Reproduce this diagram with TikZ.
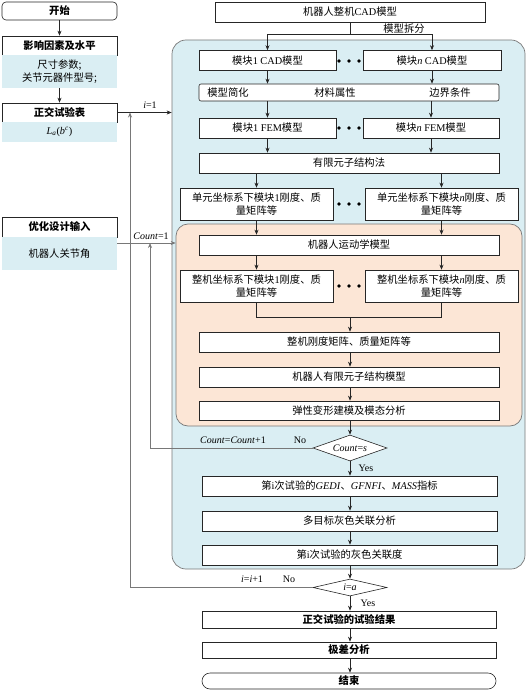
\documentclass[tikz,border=0pt]{standalone}
\usepackage{fontspec}
\setmainfont{Liberation Serif}
\newfontfamily\cjk{Noto Sans CJK SC}
\usetikzlibrary{arrows.meta,shapes.geometric}
\definecolor{bluefill}{RGB}{218,238,243}
\definecolor{orangefill}{RGB}{252,230,214}
\definecolor{linegray}{RGB}{120,120,120}
\newcommand\zhf{\cjk\fontsize{10.3}{13}\selectfont}
\newcommand\tmf{\rmfamily\fontsize{10}{12}\selectfont}
\newcommand\tn[1]{{\rmfamily #1}}
\begin{document}
\begin{tikzpicture}[x=1pt,y=-1pt,
  box/.style={draw=black!85, line width=0.6pt, fill=white, inner sep=1pt, align=center, font=\zhf},
  hbox/.style={box, font=\zhf\bfseries},
  bbox/.style={fill=bluefill, inner sep=1pt, align=center, font=\zhf},
  cont/.style={draw=linegray, line width=0.7pt, rounded corners=14pt, inner sep=0pt},
  arr/.style={-{Stealth[length=5pt,width=4pt]}, line width=0.6pt, draw=black!85},
  ln/.style={line width=0.6pt, draw=black!85},
  lp/.style={-{Stealth[length=5pt,width=4pt]}, line width=0.7pt, draw=linegray},
  lbl/.style={font=\tmf, inner sep=1pt},
  zlbl/.style={font=\zhf, inner sep=1pt},
  dotn/.style={circle, fill=black, inner sep=0pt, minimum size=3.6pt},
  dec/.style={diamond, draw=black!85, line width=0.6pt, fill=white, inner sep=0pt, font=\tmf}
]
\useasboundingbox (0,0) rectangle (529,692);

% containers
\node[cont, fill=bluefill, minimum width=353pt, minimum height=529pt] (blue) at (348.5,304.5) {};
\node[cont, fill=orangefill, rounded corners=12pt, minimum width=346pt, minimum height=202pt] (orange) at (349,325) {};

% left column
\node[hbox, rounded corners=4pt, minimum width=115pt, minimum height=18pt] (start) at (59.5,11) {开始};
\node[hbox, minimum width=115pt, minimum height=19pt] (yx) at (59.5,45.5) {影响因素及水平};
\node[bbox, minimum width=115pt, minimum height=33pt] (yxb) at (59.5,71.5) {尺寸参数;\\关节元器件型号;};
\node[hbox, minimum width=115pt, minimum height=19pt] (zj) at (59.5,112.5) {正交试验表};
\node[bbox, minimum width=115pt, minimum height=20pt] (zjb) at (59.5,132) {\tn{\textit{L}\textsubscript{\textit{a}}(\textit{b}\textsuperscript{\textit{c}})}};
\node[hbox, minimum width=115pt, minimum height=20pt] (yh) at (59.5,227) {优化设计输入};
\node[bbox, minimum width=115pt, minimum height=33pt] (yhb) at (59.5,253.5) {机器人关节角};

% top
\node[box, minimum width=270pt, minimum height=20pt] (top) at (350,12) {机器人整机\tn{CAD}模型};
\node[box, minimum width=137pt, minimum height=20pt] (cad1) at (267.5,60.5) {模块\tn{1 CAD}模型};
\node[box, minimum width=138pt, minimum height=20pt] (cadn) at (432,60.5) {模块\tn{\textit{n} CAD}模型};
\node[box, rounded corners=2pt, minimum width=300pt, minimum height=17pt] (row2) at (349,92.5) {};
\node[zlbl] (mx) at (228,92.5) {模型简化};
\node[zlbl] (cl) at (335,92.5) {材料属性};
\node[zlbl] (bj) at (450,92.5) {边界条件};
\node[box, minimum width=137pt, minimum height=20pt] (fem1) at (267.5,128) {模块\tn{1 FEM}模型};
\node[box, minimum width=136pt, minimum height=20pt] (femn) at (431,128) {模块\tn{\textit{n} FEM}模型};
\node[box, minimum width=300pt, minimum height=20pt] (yxy) at (349,163) {有限元子结构法};
\node[box, minimum width=153pt, minimum height=32pt] (dy1) at (256.5,204) {单元坐标系下模块\tn{1}刚度、质\\量矩阵等};
\node[box, minimum width=153pt, minimum height=32pt] (dyn) at (441.5,204) {单元坐标系下模块\tn{\textit{n}}刚度、质\\量矩阵等};

% orange part
\node[box, minimum width=300pt, minimum height=20pt] (yd) at (349,245) {机器人运动学模型};
\node[box, minimum width=153pt, minimum height=32pt] (zj1) at (256.5,286) {整机坐标系下模块\tn{1}刚度、质\\量矩阵等};
\node[box, minimum width=153pt, minimum height=32pt] (zjn) at (441.5,286) {整机坐标系下模块\tn{\textit{n}}刚度、质\\量矩阵等};
\node[box, minimum width=300pt, minimum height=20pt] (gd) at (349,342) {整机刚度矩阵、质量矩阵等};
\node[box, minimum width=300pt, minimum height=20pt] (yx2) at (349,377) {机器人有限元子结构模型};
\node[box, minimum width=300pt, minimum height=19pt] (tx) at (349,410.5) {弹性变形建模及模态分析};

% decision 1 and lower blue part
\node[dec, aspect=3, minimum width=74pt, minimum height=26pt] (dec1) at (350,448) {\textit{Count}=\textit{s}};
\node[box, minimum width=295pt, minimum height=20pt] (gedi) at (349.5,486) {第\tn{i}次试验的\tn{\textit{GEDI}}、\tn{\textit{GFNFI}}、\tn{\textit{MASS}}指标};
\node[box, minimum width=295pt, minimum height=20pt] (dm) at (349.5,521) {多目标灰色关联分析};
\node[box, minimum width=295pt, minimum height=20pt] (hs) at (349.5,555) {第\tn{i}次试验的灰色关联度};
\node[dec, aspect=4, minimum width=74pt, minimum height=17pt] (dec2) at (350,587.5) {\textit{i}=\textit{a}};

% bottom
\node[hbox, minimum width=294pt, minimum height=17pt] (res) at (349,619.5) {正交试验的试验结果};
\node[hbox, minimum width=294pt, minimum height=16pt] (jc) at (349,650) {极差分析};
\node[hbox, rounded corners=8pt, minimum width=294pt, minimum height=16pt] (end) at (349,681) {结束};

% dots
\foreach \r/\yy in {a/61,b/128,c/204,d/286}{
  \node[dotn] (dot\r1) at (339,\yy) {};
  \node[dotn] (dot\r2) at (349,\yy) {};
  \node[dotn] (dot\r3) at (359,\yy) {};
}

% connectors: left column
\draw[arr] (start.south) -- (yx.north);
\draw[arr] (yxb.south) -- (zj.north);
\draw[arr] (zj.east) -- (zj.east -| blue.west);
\node[lbl] (li1) at (150,105) {\textit{i}=1};
\coordinate (yin) at (117,243);
\draw[arr, draw=linegray] (yin) -- (yin -| orange.west);
\node[lbl] (lc1) at (151,236) {\textit{Count}=1};

% top split
\coordinate (sp) at (350,34);
\draw[ln] (top.south) -- (sp);
\draw[arr] (sp) -| (cad1.north);
\draw[arr] (sp) -| (cadn.north);
\node[zlbl] (lsp) at (404,29) {模型拆分};

\draw[arr] (cad1.south) -- (cad1.south |- row2.north);
\draw[arr] (cadn.south) -- (cadn.south |- row2.north);
\draw[arr] (fem1.north |- row2.south) -- (fem1.north);
\draw[arr] (femn.north |- row2.south) -- (femn.north);
\draw[arr] (fem1.south) -- (fem1.south |- yxy.north);
\draw[arr] (femn.south) -- (femn.south |- yxy.north);
\draw[arr] (dy1.north |- yxy.south) -- (dy1.north);
\draw[arr] (dyn.north |- yxy.south) -- (dyn.north);
\draw[arr] (dy1.south) -- (dy1.south |- yd.north);
\draw[arr] (dyn.south) -- (dyn.south |- yd.north);
\draw[arr] (zj1.north |- yd.south) -- (zj1.north);
\draw[arr] (zjn.north |- yd.south) -- (zjn.north);
\coordinate (jn) at (350,317);
\draw[ln] (zj1.south) |- (jn);
\draw[ln] (zjn.south) |- (jn);
\draw[arr] (jn) -- (jn |- gd.north);
\draw[arr] (gd.south -| jn) -- (jn |- yx2.north);
\draw[arr] (yx2.south -| jn) -- (jn |- tx.north);
\draw[arr] (tx.south -| jn) -- (dec1.north);
\draw[arr] (dec1.south) -- (dec1.south |- gedi.north);
\node[lbl] (ly1) at (366,468) {Yes};
\draw[arr] (dec1.south |- gedi.south) -- (dec1.south |- dm.north);
\draw[arr] (dec1.south |- dm.south) -- (dec1.south |- hs.north);
\draw[arr] (dec1.south |- hs.south) -- (dec2.north);
\draw[arr] (dec2.south) -- (dec2.south |- res.north);
\node[lbl] (ly2) at (368,603) {Yes};
\draw[arr] (dec2.south |- res.south) -- (dec2.south |- jc.north);
\draw[arr] (dec2.south |- jc.south) -- (dec2.south |- end.north);

% loops
\coordinate (lpa) at (150,448);
\draw[lp] (dec1.west) -- (lpa) -- (lpa |- yin);
\node[lbl] (lcc) at (233,440) {\textit{Count}=\textit{Count}+1};
\node[lbl] (ln1) at (300,440) {No};
\coordinate (lpb) at (130,587.5);
\draw[lp] (dec2.west) -- (lpb) -- (lpb |- zj.east);
\node[lbl] (lii) at (252,579) {\textit{i}=\textit{i}+1};
\node[lbl] (ln2) at (289,579) {No};
\end{tikzpicture}
\end{document}
